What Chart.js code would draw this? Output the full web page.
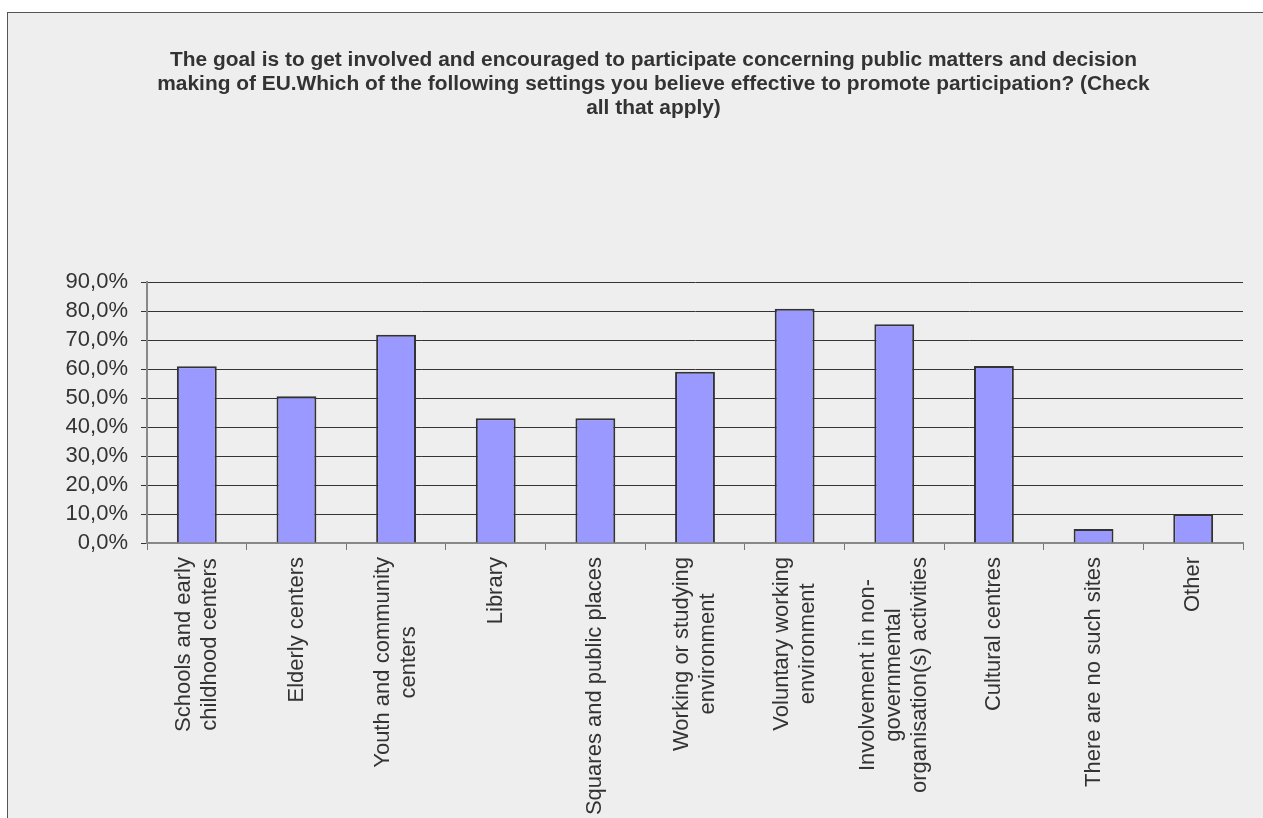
<!DOCTYPE html>
<html>
<head>
<meta charset="utf-8">
<script src="https://cdn.jsdelivr.net/npm/chart.js@4/dist/chart.umd.min.js"></script>
<style>
  html, body { margin: 0; padding: 0; background: #ffffff; overflow: hidden; }
  #frame {
    position: absolute; left: 7px; top: 12px;
    width: 1300px; height: 810px;
    background: #eeeeee;
    border-left: 1px solid #555555; border-top: 1px solid #555555;
  }
  #chart { display: block; }
</style>
</head>
<body>
<div id="frame"><canvas id="chart" width="1300" height="805"></canvas></div>
<script>
// Categories (each entry = lines of the rotated label)
const categories = [
    ['Schools and early', 'childhood centers'],
    ['Elderly centers'],
    ['Youth and community', 'centers'],
    ['Library'],
    ['Squares and public places'],
    ['Working or studying', 'environment'],
    ['Voluntary working', 'environment'],
    ['Involvement in non-', 'governmental', 'organisation(s) activities'],
    ['Cultural centres'],
    ['There are no such sites'],
    ['Other']
];

// Share of respondents, in %
const values = [61.0, 50.6, 71.8, 43.0, 43.0, 59.1, 80.8, 75.5, 61.1, 4.8, 9.9];

const titleLines = [
    'The goal is to get involved and encouraged to participate concerning public matters and decision',
    'making of EU.Which of the following settings you believe effective to promote participation? (Check',
    'all that apply)'
];

const yMax = 90;
const yStep = 10;

// draws the rotated, centred multi-line category labels under the axis
const xLabels = {
    id: 'xLabels',
    afterDraw(chart) {
        const ctx = chart.ctx;
        const xs = chart.scales.x;
        const lh = 26;
        ctx.save();
        ctx.font = '22px "Liberation Sans", Arial, sans-serif';
        ctx.fillStyle = '#333333';
        ctx.textAlign = 'center';
        ctx.textBaseline = 'middle';
        categories.forEach((lines, i) => {
            const x = xs.getPixelForValue(i);
            const maxW = Math.max(...lines.map(l => ctx.measureText(l).width));
            ctx.save();
            ctx.translate(x, xs.top);
            ctx.rotate(-Math.PI / 2);
            lines.forEach((line, j) => {
                ctx.fillText(line, -(14 + maxW / 2), (j - (lines.length - 1) / 2) * lh);
            });
            ctx.restore();
        });
        ctx.restore();
    }
};

new Chart(document.getElementById('chart'), {
    type: 'bar',
    data: {
        labels: categories.map(c => c.join(' ')),
        datasets: [{
            data: values,
            backgroundColor: '#9999ff',
            borderColor: '#333333',
            borderWidth: 2,
            barPercentage: 0.4,
            categoryPercentage: 1
        }]
    },
    options: {
        responsive: false,
        animation: false,
        devicePixelRatio: 1,
        layout: { padding: { left: 56, right: 65, top: 0, bottom: 0 } },
        plugins: {
            legend: { display: false },
            tooltip: { enabled: false },
            title: {
                display: true,
                text: titleLines,
                color: '#333333',
                font: { family: '"Liberation Sans", Arial, sans-serif', size: 20.9, weight: 'bold', lineHeight: 1.15 },
                padding: { top: 35, bottom: 162 }
            }
        },
        scales: {
            x: {
                grid: { drawOnChartArea: false, offset: true, tickLength: 7, color: '#777777' },
                border: { color: '#888888', width: 2 },
                ticks: { display: false },
                afterFit(scale) { scale.height = 275; }
            },
            y: {
                min: 0,
                max: yMax,
                grid: { color: '#333333', tickLength: 6 },
                border: { color: '#888888', width: 2 },
                ticks: {
                    stepSize: yStep,
                    autoSkip: false,
                    color: '#333333',
                    padding: 13,
                    font: { family: '"Liberation Sans", Arial, sans-serif', size: 22 },
                    callback: v => v.toFixed(1).replace('.', ',') + '%'
                },
                afterFit(scale) { scale.width = 83; }
            }
        }
    },
    plugins: [xLabels]
});
</script>
</body>
</html>
